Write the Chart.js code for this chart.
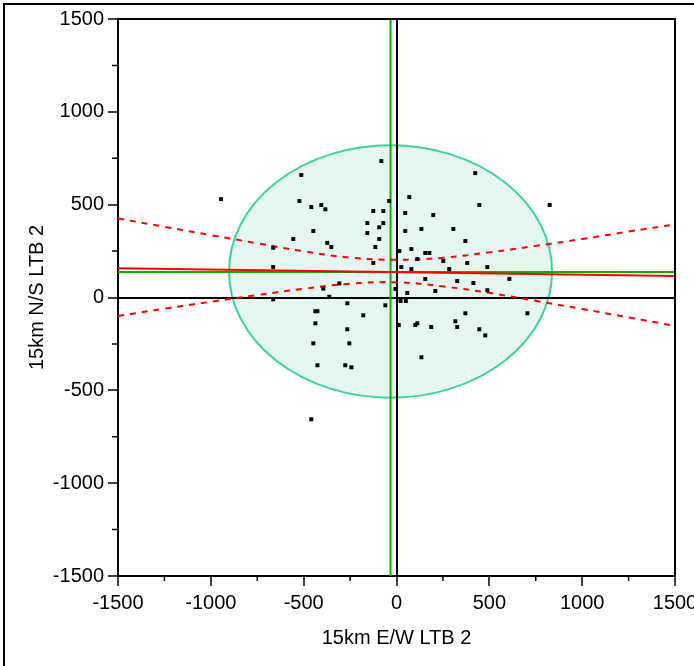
<!DOCTYPE html>
<html>
<head>
<meta charset="utf-8">
<script src="https://cdn.jsdelivr.net/npm/chart.js@4.4.0/dist/chart.umd.min.js"></script>
<style>
  body { margin: 0; background: #fff; }
  #marco { position: absolute; left: 3px; top: 3px; width: 720px; height: 700px; border-left: 2px solid #000; border-top: 2px solid #000; }
  #grafica { position: absolute; left: 0; top: 0; }
</style>
</head>
<body>
<div id="marco"></div>
<canvas id="grafica" width="694" height="666"></canvas>
<script>
// puntos (E/W, N/S)
const puntosX = [-82, -513, -945, -40, -523, -459, -405, -383, -125, -71, -157, -71, -93, -157, -448, -93, -556, -373, -351, -114, -125, -664, -664, -308, -394, -362, -664, -265, -60,
  424, 69, 446, 825, 47, 198, 47, 134, 306, 371, 15, 80, 155, 177, 252, 381, 489, 26, 80, 284, 112, 155, 327, 414, 608, 209, 58, -6, 489, 22, 50,
  -437, -426, -179, -437, -265, -448, -254, -426, -276, -243, -459, 12,
  371, 705, 101, 112, 187, 317, 327, 446, 478, 134];
const puntosY = [735, 660, 530, 520, 520, 487, 498, 475, 466, 466, 401, 401, 378, 347, 358, 315, 315, 294, 272, 272, 186, 268, 164, 76, 48, 4, -10, -31, -42,
  670, 541, 498, 498, 455, 444, 358, 369, 369, 304, 250, 261, 240, 240, 197, 186, 164, 164, 153, 153, 207, 100, 89, 78, 100, 35, 24, 46, 39, -19, -19,
  -74, -74, -96, -139, -171, -247, -247, -365, -365, -376, -656, -148,
  -85, -85, -148, -139, -159, -128, -159, -171, -204, -322];

// medias
const mediaX = -32;
const mediaY = 138;

// recta de regresion
const regX = [-1500, 1500];
const regY = [157, 116];

// bandas de confianza
const bandaX = [-1500, -1250, -1000, -750, -500, -250, 0, 250, 500, 750, 1000, 1250, 1500];
const bandaSup = [426, 381, 336, 292, 249, 215, 203, 214, 243, 278, 315, 355, 394];
const bandaInf = [-100, -60, -23, 13, 47, 74, 82, 60, 25, -18, -62, -107, -153];

// elipse de densidad
const elipseCentro = [-32, 140];
const elipseRadio = [870, 680];

const rango = [-1500, 1500];

const fuente = { family: 'Liberation Sans, Arial, sans-serif', size: 20 };

const elipsePlugin = {
  id: 'elipse',
  beforeDraw(chart) {
    const ctx = chart.ctx;
    const xs = chart.scales.x, ys = chart.scales.y;
    const a = chart.chartArea;
    const cx = xs.getPixelForValue(elipseCentro[0]);
    const cy = ys.getPixelForValue(elipseCentro[1]);
    const rx = Math.abs(xs.getPixelForValue(elipseCentro[0] + elipseRadio[0]) - cx);
    const ry = Math.abs(ys.getPixelForValue(elipseCentro[1] + elipseRadio[1]) - cy);
    ctx.save();
    ctx.beginPath();
    ctx.rect(a.left, a.top, a.right - a.left, a.bottom - a.top);
    ctx.clip();
    ctx.beginPath();
    ctx.ellipse(cx, cy, rx, ry, 0, 0, Math.PI * 2);
    ctx.fillStyle = '#e6f7f1';
    ctx.fill();
    ctx.lineWidth = 2;
    ctx.strokeStyle = '#3ed1a0';
    ctx.stroke();
    ctx.restore();
  },
  afterDraw(chart) {
    const ctx = chart.ctx;
    const a = chart.chartArea;
    const xs = chart.scales.x, ys = chart.scales.y;
    ctx.save();
    ctx.strokeStyle = '#000';
    ctx.lineWidth = 2;
    // marco arriba y derecha
    ctx.beginPath();
    ctx.moveTo(a.left, a.top);
    ctx.lineTo(a.right, a.top);
    ctx.lineTo(a.right, a.bottom);
    ctx.stroke();
    // ticks menores
    ctx.lineWidth = 1.5;
    ctx.beginPath();
    xs.ticks.forEach(t => {
      if (t.value % 500 !== 0) {
        const px = xs.getPixelForValue(t.value);
        ctx.moveTo(px, a.bottom);
        ctx.lineTo(px, a.bottom + 5);
      }
    });
    ys.ticks.forEach(t => {
      if (t.value % 500 !== 0) {
        const py = ys.getPixelForValue(t.value);
        ctx.moveTo(a.left, py);
        ctx.lineTo(a.left - 6, py);
      }
    });
    ctx.stroke();
    ctx.restore();
  }
};

const puntos = puntosX.map((x, i) => ({ x: x, y: puntosY[i] }));
const linea = (xs, ys) => xs.map((x, i) => ({ x: x, y: ys[i] }));

const ejeComun = {
  type: 'linear',
  min: rango[0],
  max: rango[1],
  border: { display: true, color: '#000', width: 2 },
  grid: {
    color: c => (c.tick && c.tick.value === 0 ? '#000' : 'rgba(0,0,0,0)'),
    lineWidth: 2,
    tickColor: c => (c.tick && c.tick.value % 500 === 0 ? '#000' : 'rgba(0,0,0,0)'),
    tickWidth: 1.5,
    tickLength: 10
  },
  ticks: {
    stepSize: 250,
    autoSkip: false,
    maxRotation: 0,
    color: '#000',
    font: fuente,
    callback: v => (v % 500 === 0 ? String(v) : '')
  }
};

new Chart(document.getElementById('grafica'), {
  type: 'scatter',
  data: {
    datasets: [
      {
        data: puntos,
        pointStyle: 'rect',
        pointRadius: 2.8,
        backgroundColor: '#000',
        borderWidth: 0
      },
      {
        type: 'line',
        data: linea(regX, regY),
        borderColor: '#ff0000',
        borderWidth: 2,
        pointRadius: 0
      },
      {
        type: 'line',
        data: linea(bandaX, bandaSup),
        borderColor: '#ff0000',
        borderWidth: 2,
        borderDash: [6, 6],
        tension: 0.4,
        pointRadius: 0
      },
      {
        type: 'line',
        data: linea(bandaX, bandaInf),
        borderColor: '#ff0000',
        borderWidth: 2,
        borderDash: [6, 6],
        tension: 0.4,
        pointRadius: 0
      },
      {
        type: 'line',
        data: linea(rango, [mediaY, mediaY]),
        borderColor: '#00b400',
        borderWidth: 2,
        pointRadius: 0
      },
      {
        type: 'line',
        data: linea([mediaX, mediaX], rango),
        borderColor: '#00b400',
        borderWidth: 2,
        pointRadius: 0
      }
    ]
  },
  options: {
    responsive: false,
    animation: false,
    layout: { padding: { top: 19, right: 19, left: 0, bottom: 0 } },
    plugins: { legend: { display: false }, tooltip: { enabled: false } },
    scales: {
      x: Object.assign({}, ejeComun, {
        position: 'bottom',
        ticks: Object.assign({}, ejeComun.ticks, { padding: 5 }),
        title: { display: true, text: '15km E/W LTB 2', color: '#000', font: fuente, padding: { top: 0, bottom: 16 } },
        afterFit: s => { s.height = 90; s.paddingLeft = 0; s.paddingRight = 0; }
      }),
      y: Object.assign({}, ejeComun, {
        position: 'left',
        ticks: Object.assign({}, ejeComun.ticks, { padding: 4 }),
        title: { display: true, text: '15km N/S LTB 2', color: '#000', font: fuente, padding: { top: 25, bottom: 0 } },
        afterFit: s => { s.width = 118; s.paddingTop = 0; s.paddingBottom = 0; }
      })
    }
  },
  plugins: [elipsePlugin]
});
</script>
</body>
</html>
